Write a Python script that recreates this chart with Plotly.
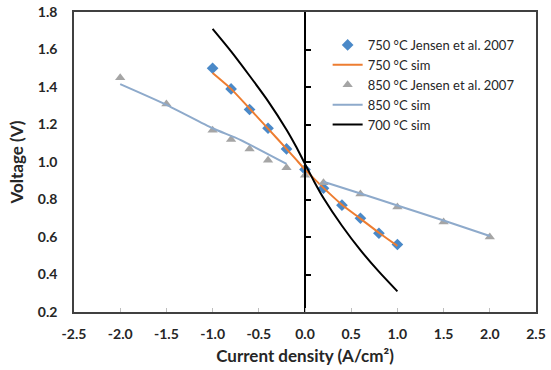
import plotly.graph_objects as go

# ---- data ----
x750_exp = [-1.0, -0.8, -0.6, -0.4, -0.2, 0.0, 0.2, 0.4, 0.6, 0.8, 1.0]
v750_exp = [1.50, 1.39, 1.28, 1.18, 1.07, 0.96, 0.86, 0.77, 0.70, 0.62, 0.56]

x750_sim = [-1.0, -0.8, -0.6, -0.4, -0.2, -0.1, 0.0, 0.1, 0.2, 0.4, 0.6, 0.8, 1.0]
v750_sim = [1.475, 1.39, 1.285, 1.178, 1.07, 1.015, 0.96, 0.91, 0.862, 0.772, 0.698, 0.623, 0.553]

x850_exp = [-2.0, -1.5, -1.0, -0.8, -0.6, -0.4, -0.2, 0.0, 0.2, 0.6, 1.0, 1.5, 2.0]
v850_exp = [1.45, 1.31, 1.17, 1.12, 1.07, 1.01, 0.97, 0.93, 0.89, 0.83, 0.76, 0.68, 0.60]

x850_sim = [-2.0, -1.5, -1.0, -0.7, -0.2, None, 0.2, 0.6, 1.0, 1.5, 2.0]
v850_sim = [1.415, 1.305, 1.18, 1.118, 0.99, None, 0.895, 0.832, 0.768, 0.688, 0.605]

x700_sim = [-1.0, -0.8, -0.6, -0.4, -0.2, -0.1, 0.0, 0.1, 0.2, 0.4, 0.6, 0.8, 1.0]
v700_sim = [1.71, 1.59, 1.46, 1.325, 1.172, 1.085, 0.99, 0.895, 0.808, 0.66, 0.53, 0.415, 0.31]

x_ticks = [-2.5, -2.0, -1.5, -1.0, -0.5, 0.0, 0.5, 1.0, 1.5, 2.0, 2.5]
y_ticks = [0.2, 0.4, 0.6, 0.8, 1.0, 1.2, 1.4, 1.6, 1.8]

BLUE = "#4a89c8"
ORANGE = "#ed7d31"
GRAY = "#a5a5a5"
STEEL = "#8eaacb"
TXT = "#262626"
FONT = "Lato, 'Open Sans', sans-serif"

fig = go.Figure()
fig.add_trace(go.Scatter(x=x750_exp, y=v750_exp, mode="markers", name="750 °C Jensen et al. 2007",
                         marker=dict(symbol="diamond", size=9, color=BLUE)))
fig.add_trace(go.Scatter(x=x750_sim, y=v750_sim, mode="lines", name="750 °C sim",
                         line=dict(color=ORANGE, width=2, shape="spline", smoothing=0.6)))
fig.add_trace(go.Scatter(x=x850_exp, y=v850_exp, mode="markers", name="850 °C Jensen et al. 2007",
                         marker=dict(symbol="triangle-up", size=9, color=GRAY)))
fig.add_trace(go.Scatter(x=x850_sim, y=v850_sim, mode="lines", name="850 °C sim",
                         line=dict(color=STEEL, width=2, shape="spline", smoothing=0.5),
                         connectgaps=False))
fig.add_trace(go.Scatter(x=x700_sim, y=v700_sim, mode="lines", name="700 °C sim",
                         line=dict(color="black", width=2, shape="spline", smoothing=0.7)))
# invisible trace to carry the y-axis drawn at x = 0
fig.add_trace(go.Scatter(x=[0], y=[1.0], yaxis="y2", mode="markers", showlegend=False,
                         marker=dict(opacity=0), hoverinfo="skip"))

tickfont = dict(family=FONT, size=14, color=TXT, weight="bold")
titlefont = dict(family=FONT, size=17, color=TXT, weight="bold")

fig.update_layout(
    width=551, height=370,
    margin=dict(l=74, r=15, t=12, b=58, autoexpand=False),
    paper_bgcolor="white", plot_bgcolor="white",
    font=dict(family=FONT, color=TXT),
    showlegend=True,
    legend=dict(x=0.549, y=0.94, xanchor="left", yanchor="top",
                font=dict(size=13, color=TXT, family=FONT),
                bgcolor="rgba(0,0,0,0)", tracegroupgap=0, itemwidth=30),
    xaxis=dict(range=[-2.5, 2.5], tickvals=x_ticks, ticktext=[f"{v:.1f}" for v in x_ticks],
               showgrid=False, zeroline=False, showline=True, mirror=True, automargin=False,
               linecolor="#404040", linewidth=1.5,
               ticks="inside", ticklen=4, tickcolor="#bfbfbf", tickwidth=1,
               tickfont=tickfont, ticklabelstandoff=8,
               title=dict(text="Current density (A/cm²)", standoff=10, font=titlefont)),
    yaxis=dict(range=[0.2, 1.8], tickvals=y_ticks, ticktext=[f"{v:.1f}" for v in y_ticks],
               showgrid=False, zeroline=False, showline=True, mirror=True, automargin=False,
               linecolor="#404040", linewidth=1.5, ticks="",
               tickfont=tickfont, ticklabelstandoff=12,
               title=dict(text="Voltage (V)", standoff=10, font=titlefont)),
    yaxis2=dict(range=[0.2, 1.8], overlaying="y", anchor="free", position=0.5, side="left",
                automargin=False,
                tickvals=y_ticks, showticklabels=False, showgrid=False, zeroline=False,
                showline=True, linecolor="black", linewidth=2,
                ticks="inside", ticklen=5, tickcolor="black", tickwidth=1.5),
)

fig.write_html("out.html", config={"displayModeBar": False},
               post_script="document.body.style.margin='0';")
